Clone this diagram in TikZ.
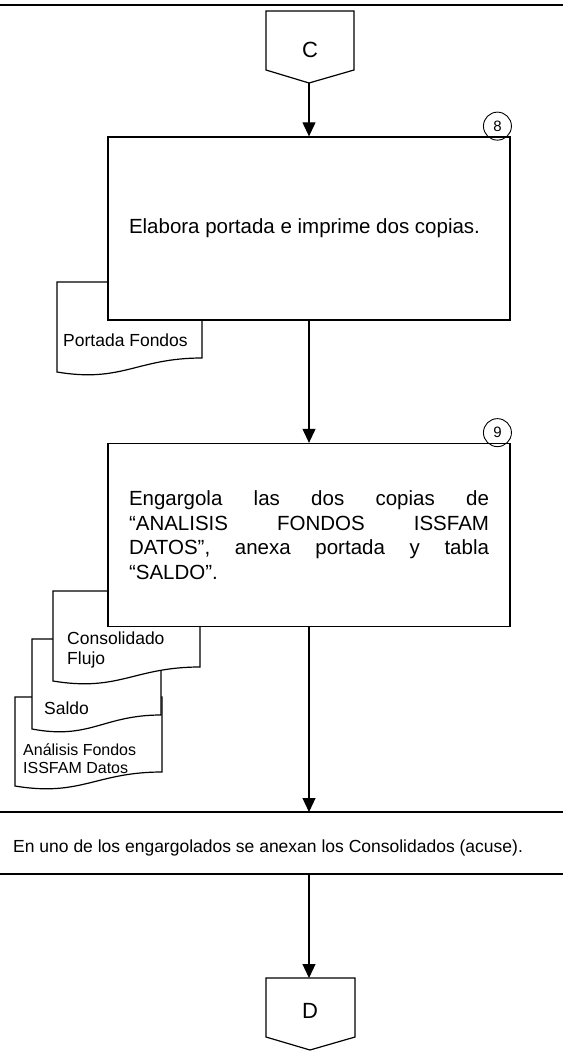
\documentclass[tikz,border=0pt]{standalone}
\usepackage{fontspec}
\setmainfont{Liberation Sans}
\usetikzlibrary{arrows.meta,positioning}

\tikzset{
  linea/.style={line width=1.2pt},
  corte/.style={line width=2pt},
  proceso/.style={draw, line width=1.3pt, fill=white, minimum width=402pt,
    minimum height=183pt, text width=360pt, align=justify,
    font=\fontsize{20.5}{24.5}\selectfont},
  paso/.style={circle, draw, line width=0.9pt, minimum size=28pt,
    inner sep=0pt, font=\fontsize{15}{15}\selectfont},
  letra/.style={font=\fontsize{22}{22}\selectfont},
  doctxt/.style={anchor=west, align=left, inner sep=0pt,
    font=\fontsize{17.5}{20}\selectfont},
  nota/.style={anchor=west, inner sep=0pt, font=\fontsize{17.5}{20}\selectfont},
  flecha/.style={line width=1.1pt, -{Triangle[length=14pt,width=13pt]}}
}

% hoja con borde ondulado: izq, arriba, der, abajo
\newcommand{\hoja}[4]{%
  \draw[linea, fill=white] (#1,#2) -- (#3,#2) -- (#3,#4)
    .. controls ({#3-0.45*(#3-#1)},#4) and ({#1+0.45*(#3-#1)},#4+25) .. (#1,#4+14)
    -- cycle;}

\begin{document}
\begin{tikzpicture}[x=1pt, y=-1pt]
  \useasboundingbox (0,0) rectangle (563,1051);
  % linea superior
  \draw[line width=2.4pt] (0,5) -- (563,5);
  % conector C
  \coordinate (cpunta) at (309,83);
  \draw[linea] (266,11) -- (354,11) -- (354,70) -- (cpunta) -- (266,70) -- cycle;
  \node[letra] (conC) at (310,50) {C};
  % paso 8
  \hoja{57}{282}{202}{358}
  \node[doctxt] (docPortada) at (63,340) {Portada Fondos};
  \node[proceso] (paso8) at (309,228.5) {Elabora portada e imprime dos copias.};
  \node[paso, above left=0pt and 3pt of paso8.north east] (num8) {8};
  \draw[flecha] (cpunta) -- (paso8);
  % paso 9, hojas de atras hacia adelante
  \hoja{15}{697}{162}{772}
  \node[doctxt, font=\fontsize{16}{18}\selectfont] (docAnalisis) at (23,759)
    {Análisis Fondos\\ISSFAM Datos};
  \hoja{32}{639}{161}{715}
  \node[doctxt] (docSaldo) at (44,708) {Saldo};
  \hoja{53}{591}{200}{667}
  \node[doctxt] (docConsolidado) at (67,650) {Consolidado\\Flujo};
  \node[proceso] (paso9) at (309,535) {Engargola las dos copias de\linebreak
    “ANALISIS FONDOS ISSFAM\linebreak DATOS”, anexa portada y tabla\linebreak
    “SALDO”.};
  \node[paso, above left=0pt and 3pt of paso9.north east] (num9) {9};
  \draw[flecha] (paso8) -- (paso9);
  % nota
  \draw[corte] (0,812) -- (563,812);
  \draw[corte] (0,874) -- (563,874);
  \coordinate (lin1) at (309,812);
  \coordinate (lin2) at (309,874);
  \node[nota] (nota) at (13,848)
    {En uno de los engargolados se anexan los Consolidados (acuse).};
  \draw[flecha] (paso9) -- (lin1);
  % conector D
  \coordinate (darriba) at (309,978);
  \draw[linea] (266,978) -- (355,978) -- (355,1037) -- (310,1050) -- (266,1037) -- cycle;
  \node[letra] (conD) at (310,1011) {D};
  \draw[flecha] (lin2) -- (darriba);
\end{tikzpicture}
\end{document}
